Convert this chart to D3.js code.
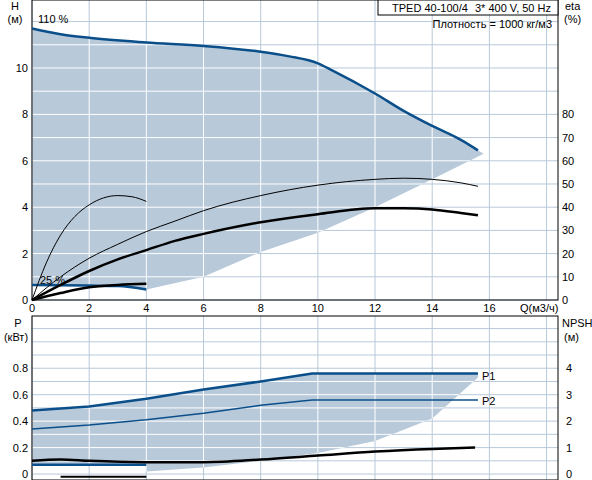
<!DOCTYPE html>
<html><head><meta charset="utf-8">
<script src="https://cdn.jsdelivr.net/npm/d3@7"></script>
<style>body{margin:0;background:#fff}text{font-family:"Liberation Sans",Arial,sans-serif;font-size:11px;fill:#000}</style>
</head><body><svg id="c" width="592" height="480"></svg>
<script>
// Q ticks, H ticks, eta ticks
const qTicks = [0, 2, 4, 6, 8, 10, 12, 14, 16];
const hTicks = [0, 2, 4, 6, 8, 10];
const etaTicks = [0, 10, 20, 30, 40, 50, 60, 70, 80];
const pTicks = [0, 0.2, 0.4, 0.6, 0.8];
const npshTicks = [0, 1, 2, 3, 4];

// head curves [Q, H]
const h110 = [[0,11.7],[1,11.45],[2,11.3],[4,11.1],[6,10.95],[8,10.7],[9,10.5],[10,10.2],[10.5,9.9],[12,8.9],[13,8.15],[14,7.5],[15,6.9],[15.6,6.45]];
const h25 = [[0,0.65],[2,0.62],[3,0.6],[4,0.45]];
const hLower = [[15.8,6.3],[14,5.2],[12,4.0],[10,2.9],[8,2.07],[6,1.0],[4,0.45]];
// efficiency curves [Q, eta %]
const etaThin25 = [[0,0],[0.5,16],[1,28],[1.5,36],[2,41],[2.5,44],[3,45],[3.5,44.5],[4,42.5]];
const etaThin110 = [[0,0],[1,10],[2,18],[3,24],[4,29.5],[5,34],[6,38.5],[8,45],[10,49.5],[12,52],[13,52.5],[14,52],[15,50.5],[15.6,49]];
const etaTot110 = [[0,0],[1,6.5],[2,12.5],[3,17.5],[4,21.5],[5,25.5],[6,28.5],[8,33.5],[10,37],[12,39.5],[13,39.5],[14,39],[15,37.5],[15.6,36.5]];
const etaTot25 = [[0,0],[1,3],[2,5.5],[3,6.5],[4,7]];
// power curves [Q, P kW]
const p1 = [[0,0.48],[2,0.51],[4,0.57],[6,0.64],[8,0.7],[9.8,0.76],[15.6,0.76]];
const p2 = [[0,0.34],[2,0.37],[4,0.41],[6,0.46],[8,0.52],[9.8,0.56],[15.6,0.56]];
const p1Low = [[4,0.07],[0,0.07]];
const pLower = [[15.6,0.73],[14,0.42],[12,0.25],[10,0.16],[8,0.1],[6,0.05],[4,0.02]];
// NPSH [Q, m]
const npsh = [[0,0.5],[1,0.55],[2,0.5],[4,0.45],[6,0.45],[8,0.55],[10,0.7],[12,0.85],[14,0.95],[15.5,1.0]];
const npshLow = [[1,-0.1],[4,-0.1]];

const svg = d3.select('#c');
const blue = '#0b4f8a', shade = '#b8c9da';
const x = d3.scaleLinear().domain([0, 18.4]).range([32, 558]);
const yH = d3.scaleLinear().domain([0, 12.93]).range([300, 0]);
const yE = d3.scaleLinear().domain([0, 129.3]).range([300, 0]);
const yP = d3.scaleLinear().domain([-0.045, 1.195]).range([480, 316]);
const yN = d3.scaleLinear().domain([-0.225, 5.975]).range([480, 316]);

function panel(id, y, top, bottom, yStep, yMax, yMin, poly) {
  const g = svg.append('g');
  const grid = (sel, col) => {
    for (let q = 0; q <= 18; q += 2) sel.append('line').attr('x1', x(q)).attr('x2', x(q)).attr('y1', top).attr('y2', bottom).attr('stroke', col);
    for (let v = yMin; v <= yMax + 1e-9; v += yStep) sel.append('line').attr('x1', 32).attr('x2', 558).attr('y1', y(v)).attr('y2', y(v)).attr('stroke', col);
  };
  grid(g, shade);
  svg.append('clipPath').attr('id', id).append('path').attr('d', poly);
  g.append('path').attr('d', poly).attr('fill', shade);
  grid(g.append('g').attr('clip-path', `url(#${id})`), '#fff');
  svg.append('rect').attr('x', 32).attr('y', top).attr('width', 526).attr('height', bottom - top).attr('fill', 'none').attr('stroke', '#000');
}

const mono = d3.curveMonotoneX;
const lineH = d3.line().x(d => x(d[0])).y(d => yH(d[1])).curve(mono);
const lineE = d3.line().x(d => x(d[0])).y(d => yE(d[1])).curve(mono);
const lineP = d3.line().x(d => x(d[0])).y(d => yP(d[1]));
const lineN = d3.line().x(d => x(d[0])).y(d => yN(d[1])).curve(mono);
const polyH = d3.line().x(d => x(d[0])).y(d => yH(d[1]));

panel('c1', yH, 0, 300, 1, 12, 0, polyH(h110.concat(hLower, h25.slice().reverse())) + 'Z');
panel('c2', yP, 316, 480, 0.1, 1.1, 0, lineP(p1.concat(pLower, p1Low)) + 'Z');

function path(d, gen, col, w) { svg.append('path').attr('d', gen(d)).attr('fill', 'none').attr('stroke', col).attr('stroke-width', w); }
path(h110, lineH, blue, 2.5); path(h25, lineH, blue, 2.5);
path(etaThin25, lineE, '#000', 1); path(etaThin110, lineE, '#000', 1);
path(etaTot110, lineE, '#000', 2.5); path(etaTot25, lineE, '#000', 2.5);
path(p1, lineP, blue, 2.5); path(p2, lineP, blue, 1.5); path(p1Low, lineP, blue, 2.5);
path(npsh, lineN, '#000', 2.5); path(npshLow, lineN, '#000', 2);

function txt(t, px, py, anchor) { return svg.append('text').attr('x', px).attr('y', py).attr('text-anchor', anchor || 'start').text(t); }
hTicks.forEach(v => txt(v, 28, yH(v) + 4, 'end'));
etaTicks.forEach(v => txt(v, 562, yE(v) + 4));
qTicks.forEach(v => txt(v, x(v), 312, 'middle'));
pTicks.forEach(v => txt(v === 0 ? '0' : v.toFixed(1), 28, yP(v) + 4, 'end'));
npshTicks.forEach(v => txt(v, 566, yN(v) + 4));
txt('H', 15, 10, 'middle'); txt('(м)', 15, 23, 'middle');
txt('eta', 565, 10); txt('(%)', 564, 23);
txt('Q(м3/ч)', 520, 312);
txt('P', 18, 327, 'middle'); txt('(кВт)', 16, 341, 'middle');
txt('NPSH', 562, 327); txt('(м)', 564, 341);
txt('110 %', 38, 23); txt('25 %', 40, 284);
txt('P1', x(15.6) + 4, yP(0.74) + 4); txt('P2', x(15.6) + 4, yP(0.55) + 4);
svg.append('rect').attr('x', 378).attr('y', 0).attr('width', 180).attr('height', 15).attr('fill', '#fff').attr('stroke', '#000');
txt('TPED 40-100/4', 392, 12);
txt('3* 400 V, 50 Hz', 551, 12, 'end');
txt('Плотность = 1000 кг/м3', 552, 28, 'end');
</script></body></html>
